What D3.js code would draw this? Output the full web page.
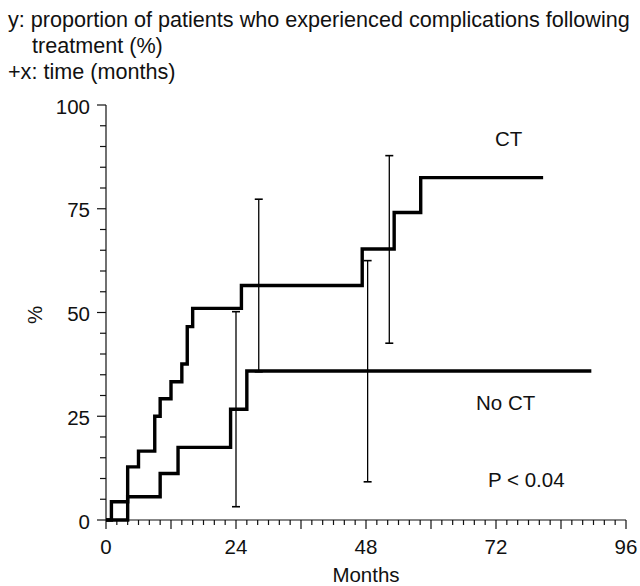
<!DOCTYPE html>
<html>
<head>
<meta charset="utf-8">
<script src="https://cdn.jsdelivr.net/npm/d3@7"></script>
<style>
  body { margin: 0; background: #fff; }
  svg text { font-family: "Liberation Sans", Arial, sans-serif; fill: #111; }
</style>
</head>
<body>
<svg id="chart" width="640" height="586"></svg>
<script>
// CT curve (months, % with complications)
const ctMonths = [0, 1, 4, 6, 9, 10, 12, 14, 15, 16, 25, 47.3, 53.2, 58.1, 80.7];
const ctPct = [0, 4.4, 12.8, 16.6, 25, 29.2, 33.3, 37.6, 46.6, 51, 56.5, 65.3, 74.1, 82.5, 82.5];

// No CT curve
const noCtMonths = [0, 4, 10, 13.3, 23, 26, 89.6];
const noCtPct = [0, 5.6, 11.2, 17.5, 26.7, 35.9, 35.9];

// error bars
const errMonths = [24, 28.2, 48.3, 52.3];
const errLow = [3.2, 35.7, 9.2, 42.6];
const errHigh = [50.2, 77.3, 62.5, 87.8];

const xTickLabels = [0, 24, 48, 72, 96];
const yTickLabels = [0, 25, 50, 75, 100];

const titleLines = [
  "y: proportion of patients who experienced complications following",
  "treatment (%)",
  "+x: time (months)"
];

drawChart();

function drawChart() {
  const svg = d3.select("#chart");
  svg.selectAll("*").remove();

  const x = d3.scaleLinear().domain([0, 96]).range([106, 626]);
  const y = d3.scaleLinear().domain([0, 100]).range([520, 105]);

  // header text
  svg.append("text").attr("x", 8).attr("y", 27).style("font-size", "21.6px").text(titleLines[0]);
  svg.append("text").attr("x", 32).attr("y", 52.5).style("font-size", "21.6px").text(titleLines[1]);
  svg.append("text").attr("x", 8).attr("y", 79).style("font-size", "21.6px").text(titleLines[2]);

  // x axis
  const xAxis = svg.append("g");
  xAxis.append("line")
    .attr("x1", x(0)).attr("x2", x(96))
    .attr("y1", y(0)).attr("y2", y(0))
    .attr("stroke", "#111").attr("stroke-width", 1.2);
  xAxis.selectAll(".tick")
    .data(d3.range(0, 97, 2))
    .join("line")
      .attr("x1", d => x(d)).attr("x2", d => x(d))
      .attr("y1", y(0))
      .attr("y2", d => y(0) + (d % 12 === 0 ? 9 : 5))
      .attr("stroke", "#111").attr("stroke-width", 1.2);
  xAxis.selectAll(".lbl")
    .data(xTickLabels)
    .join("text")
      .attr("x", d => x(d))
      .attr("y", y(0) + 34)
      .attr("text-anchor", "middle")
      .style("font-size", "20.5px")
      .text(d => d);

  // y axis
  const yAxis = svg.append("g");
  yAxis.append("line")
    .attr("x1", x(0)).attr("x2", x(0))
    .attr("y1", y(0)).attr("y2", y(100))
    .attr("stroke", "#111").attr("stroke-width", 1.2);
  yAxis.selectAll(".tick")
    .data(d3.range(0, 101, 5))
    .join("line")
      .attr("x1", x(0))
      .attr("x2", d => x(0) - (d % 25 === 0 ? 9 : 6))
      .attr("y1", d => y(d)).attr("y2", d => y(d))
      .attr("stroke", "#111").attr("stroke-width", 1.2);
  yAxis.selectAll(".lbl")
    .data(yTickLabels)
    .join("text")
      .attr("x", x(0) - 16)
      .attr("y", d => y(d))
      .attr("dy", "0.42em")
      .attr("text-anchor", "end")
      .style("font-size", "20.5px")
      .text(d => d);

  // axis titles
  svg.append("text")
    .attr("x", (x(0) + x(96)) / 2)
    .attr("y", 582)
    .attr("text-anchor", "middle")
    .style("font-size", "20.5px")
    .text("Months");

  svg.append("text")
    .attr("transform", "translate(35,315) rotate(-90)")
    .attr("text-anchor", "middle")
    .attr("dy", "0.35em")
    .style("font-size", "20.5px")
    .text("%");

  // step curves
  const step = d3.line()
    .x(d => x(d[0]))
    .y(d => y(d[1]))
    .curve(d3.curveStepAfter);

  const ct = ctMonths.map((m, i) => [m, ctPct[i]]);
  const noCt = noCtMonths.map((m, i) => [m, noCtPct[i]]);

  [ct, noCt].forEach(series => {
    svg.append("path")
      .datum(series)
      .attr("d", step)
      .attr("fill", "none")
      .attr("stroke", "#000")
      .attr("stroke-width", 3.4)
      .attr("stroke-linejoin", "miter");
  });

  // error bars
  const bars = errMonths.map((m, i) => ({ m, lo: errLow[i], hi: errHigh[i] }));
  const eb = svg.append("g")
    .selectAll("g")
    .data(bars)
    .join("g");
  eb.append("line")
    .attr("x1", d => x(d.m)).attr("x2", d => x(d.m))
    .attr("y1", d => y(d.lo)).attr("y2", d => y(d.hi))
    .attr("stroke", "#000").attr("stroke-width", 1.3);
  ["lo", "hi"].forEach(k => {
    eb.append("line")
      .attr("x1", d => x(d.m) - 4).attr("x2", d => x(d.m) + 4)
      .attr("y1", d => y(d[k])).attr("y2", d => y(d[k]))
      .attr("stroke", "#000").attr("stroke-width", 1.6);
  });

  // annotations
  svg.append("text").attr("x", 495).attr("y", 146).style("font-size", "20.5px").text("CT");
  svg.append("text").attr("x", 476).attr("y", 410).style("font-size", "20.5px").text("No CT");
  svg.append("text").attr("x", 488).attr("y", 487).style("font-size", "20.5px").text("P < 0.04");
}
</script>
</body>
</html>
